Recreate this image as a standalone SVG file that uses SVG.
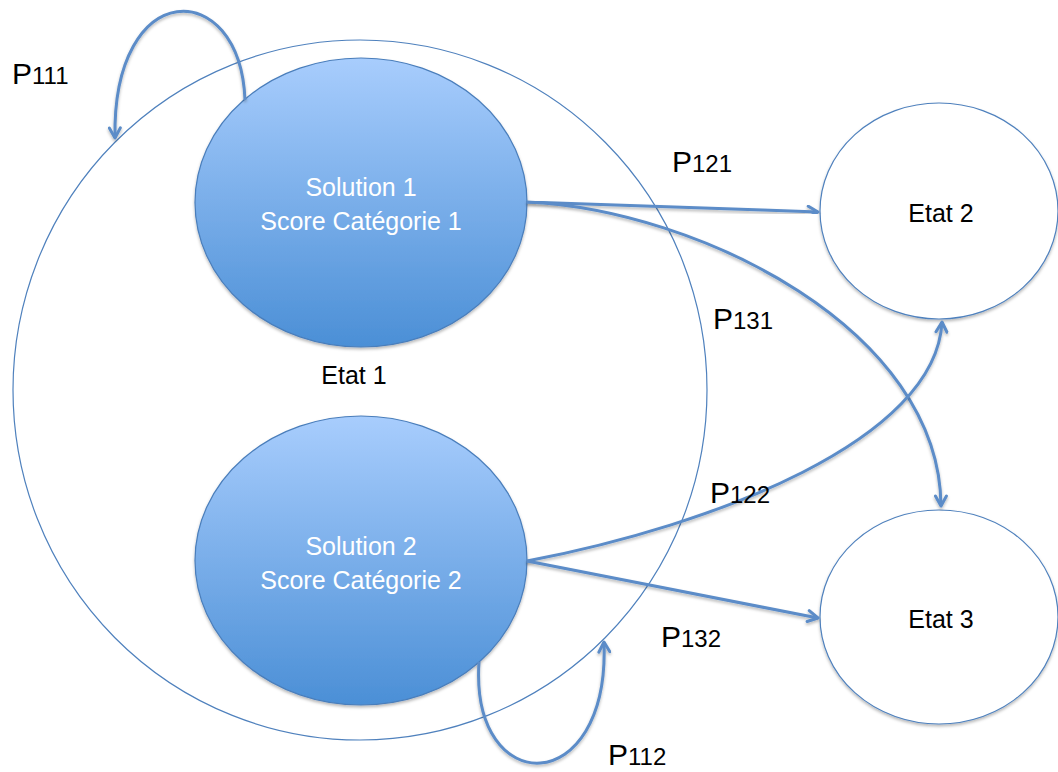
<svg xmlns="http://www.w3.org/2000/svg" width="1058" height="772" viewBox="0 0 1058 772">
  <defs>
    <linearGradient id="blue" x1="0" y1="0" x2="0" y2="1">
      <stop offset="0" stop-color="#a8cdfd"/>
      <stop offset="1" stop-color="#4b8fd6"/>
    </linearGradient>
    <filter id="shadow" x="-10%" y="-10%" width="120%" height="125%">
      <feDropShadow dx="0" dy="2" stdDeviation="1.5" flood-color="#000" flood-opacity="0.28"/>
    </filter>
    <marker id="arrow" viewBox="0 0 14 14" refX="12" refY="7" markerWidth="14" markerHeight="14" markerUnits="userSpaceOnUse" orient="auto">
      <path d="M2,1.5 L12,7 L2,12.5" fill="none" stroke="#5b8cc8" stroke-width="3" stroke-linecap="round" stroke-linejoin="round"/>
    </marker>
    <style>
      .outer { fill: #ffffff; stroke: #4f81bd; stroke-width: 1.2; }
      .sol { fill: url(#blue); stroke: #4a7ebb; stroke-width: 1.2; filter: url(#shadow); }
      .etat { fill: #ffffff; stroke: #4f81bd; stroke-width: 1.2; filter: url(#shadow); }
      .conn { fill: none; stroke: #5b8cc8; stroke-width: 3; marker-end: url(#arrow); filter: url(#shadow); }
      .lbl { font-family: "Liberation Sans", Arial, sans-serif; font-size: 25px; fill: #000000; text-anchor: middle; }
      .wlbl { font-family: "Liberation Sans", Arial, sans-serif; font-size: 25px; fill: #ffffff; text-anchor: middle; }
      .p { font-family: "Liberation Sans", Arial, sans-serif; fill: #000000; }
      .big { font-size: 30px; }
      .sub { font-size: 24px; }
    </style>
  </defs>

  <g id="etat1">
    <ellipse class="outer" cx="360" cy="390" rx="347" ry="350"/>
    <text class="lbl" x="354" y="384">Etat 1</text>
  </g>

  <g id="solution1">
    <ellipse class="sol" cx="361" cy="202.5" rx="166" ry="144.5"/>
    <text class="wlbl" x="361" y="196">Solution 1</text>
    <text class="wlbl" x="361" y="230">Score Catégorie 1</text>
  </g>

  <g id="solution2">
    <ellipse class="sol" cx="361" cy="560.5" rx="166" ry="144.5"/>
    <text class="wlbl" x="361" y="555">Solution 2</text>
    <text class="wlbl" x="361" y="589">Score Catégorie 2</text>
  </g>

  <g id="etat2">
    <ellipse class="etat" cx="939" cy="211" rx="119" ry="108"/>
    <text class="lbl" x="941" y="222">Etat 2</text>
  </g>

  <g id="etat3">
    <ellipse class="etat" cx="939" cy="617" rx="119" ry="107"/>
    <text class="lbl" x="941" y="628">Etat 3</text>
  </g>

  <g id="connectors">
    <path class="conn" d="M245,100 C240,-24 112,-24 115,138"/>
    <path class="conn" d="M527,202 L818,212"/>
    <path class="conn" d="M527,202 C700,210 940,330 941,506"/>
    <path class="conn" d="M527,561 C715,525 936,440 942,322"/>
    <path class="conn" d="M527,561 L818,618"/>
    <path class="conn" d="M479,662 C470,800 610,800 604,642"/>
  </g>

  <g id="labels">
    <text class="p" x="12" y="84"><tspan class="big">P</tspan><tspan class="sub">111</tspan></text>
    <text class="p" x="672" y="172"><tspan class="big">P</tspan><tspan class="sub">121</tspan></text>
    <text class="p" x="713" y="329"><tspan class="big">P</tspan><tspan class="sub">131</tspan></text>
    <text class="p" x="710" y="503"><tspan class="big">P</tspan><tspan class="sub">122</tspan></text>
    <text class="p" x="661" y="647"><tspan class="big">P</tspan><tspan class="sub">132</tspan></text>
    <text class="p" x="608" y="765"><tspan class="big">P</tspan><tspan class="sub">112</tspan></text>
  </g>
</svg>
